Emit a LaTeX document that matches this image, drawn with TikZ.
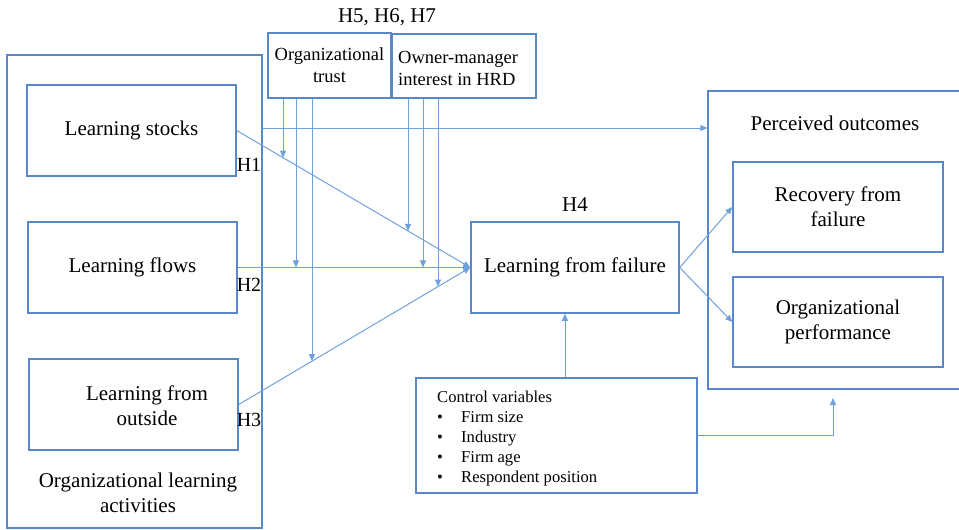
\documentclass[tikz,border=0pt]{standalone}
\usepackage{fontspec}
\setmainfont{Liberation Serif}
\usetikzlibrary{arrows.meta,intersections}
\definecolor{boxc}{RGB}{90,135,200}
\definecolor{linec}{RGB}{110,160,222}
\begin{document}
\begin{tikzpicture}[x=1pt,y=-1pt,
  box/.style={draw=boxc,line width=1.5pt,inner sep=0pt},
  main/.style={font=\fontsize{21}{25}\selectfont,align=center,text=black},
  small/.style={font=\fontsize{18.5}{22}\selectfont,text=black},
  ctrl/.style={font=\fontsize{16.6}{20}\selectfont,text=black},
  conn/.style={draw=linec,line width=1pt,-{Triangle[length=7pt,width=6pt]}},
  plainline/.style={draw=linec,line width=1pt}]
\useasboundingbox (0,0) rectangle (959,530);

% outer containers
\node[box,minimum width=255pt,minimum height=473pt] (ola) at (134.5,291.5) {};
\node[box,minimum width=257pt,minimum height=298pt] (po) at (836.5,240) {};

% left boxes
\node[box,main,minimum width=209pt,minimum height=91pt] (ls) at (131.5,130.5) {Learning stocks};
\node[box,main,minimum width=209pt,minimum height=91pt] (lf) at (132.5,267.5) {Learning flows};
\node[box,minimum width=209pt,minimum height=91pt] (lo) at (133.5,404.5) {};
\node[main,inner sep=0pt] (lot) at (147,405.5) {Learning from\\outside};
\node[main,inner sep=0pt] (olat) at (138,492.5) {Organizational learning\\activities};

% moderators
\node[box,small,align=center,minimum width=123pt,minimum height=65pt] (ot) at (329.5,65.5) {Organizational\\trust};
\node[box,minimum width=144pt,minimum height=64pt] (om) at (464,66) {};
\node[small,align=left,anchor=west,inner sep=0pt] (omt) at (398,68) {Owner-manager\\interest in HRD};
\node[main,inner sep=0pt] (h567) at (387,17) {H5, H6, H7};

% centre
\node[box,main,minimum width=208pt,minimum height=91pt] (lff) at (575,267.5) {Learning from failure};
\node[main,inner sep=0pt] (h4) at (575,205) {H4};

% outcomes
\node[main,inner sep=0pt] (pot) at (835,123) {Perceived outcomes};
\node[box,main,minimum width=210pt,minimum height=90pt] (rf) at (838,207) {Recovery from\\failure};
\node[box,main,minimum width=210pt,minimum height=90pt] (op) at (838,322) {Organizational\\performance};

% control
\node[box,minimum width=281pt,minimum height=115pt] (cv) at (556.5,435.5) {};
\node[ctrl,align=left,anchor=west,inner sep=0pt] (cvt) at (437,439) {Control variables\\
\makebox[24pt][l]{\textbullet}Firm size\\
\makebox[24pt][l]{\textbullet}Industry\\
\makebox[24pt][l]{\textbullet}Firm age\\
\makebox[24pt][l]{\textbullet}Respondent position};

% hypothesis labels
\node[main,font=\fontsize{20}{24}\selectfont,inner sep=0pt] (h1) at (249,165) {H1};
\node[main,font=\fontsize{20}{24}\selectfont,inner sep=0pt] (h2) at (249,285) {H2};
\node[main,font=\fontsize{20}{24}\selectfont,inner sep=0pt] (h3) at (249,420) {H3};

% main paths
\draw[conn,name path=p1] (ls.east) -- (lff.west);
\draw[conn,name path=p2] (lf.east) -- (lff.west);
\draw[conn,name path=p3] (lo.east) -- (lff.west);

\coordinate (ta) at (262,128);
\draw[conn] (ta) -- (ta -| po.west);

% moderator verticals
\path[name path=va] (283,90) -- (283,530);
\path[name path=vb] (296,90) -- (296,530);
\path[name path=vc] (312,90) -- (312,530);
\path[name path=vd] (408,90) -- (408,530);
\path[name path=ve] (423,90) -- (423,530);
\path[name path=vf] (438,90) -- (438,530);
\path[name intersections={of=va and p1,by=ia}];
\path[name intersections={of=vb and p2,by=ib}];
\path[name intersections={of=vc and p3,by=ic}];
\path[name intersections={of=vd and p1,by=id}];
\path[name intersections={of=ve and p2,by=ie}];
\path[name intersections={of=vf and p3,by=if}];
\draw[conn] (ot.south -| ia) -- (ia);
\draw[conn] (ot.south -| ib) -- (ib);
\draw[conn] (ot.south -| ic) -- (ic);
\draw[conn] (om.south -| id) -- (id);
\draw[conn] (om.south -| ie) -- (ie);
\draw[conn] (om.south -| if) -- (if);

% outcomes
\draw[conn] (lff.east) -- (rf.west);
\draw[conn] (lff.east) -- (op.west);

% control
\coordinate (xc) at (565,0);
\draw[conn] (cv.north -| xc) -- (lff.south -| xc);
\coordinate (xd) at (833,398);
\draw[conn] (cv.east) -| (xd);
\end{tikzpicture}
\end{document}
